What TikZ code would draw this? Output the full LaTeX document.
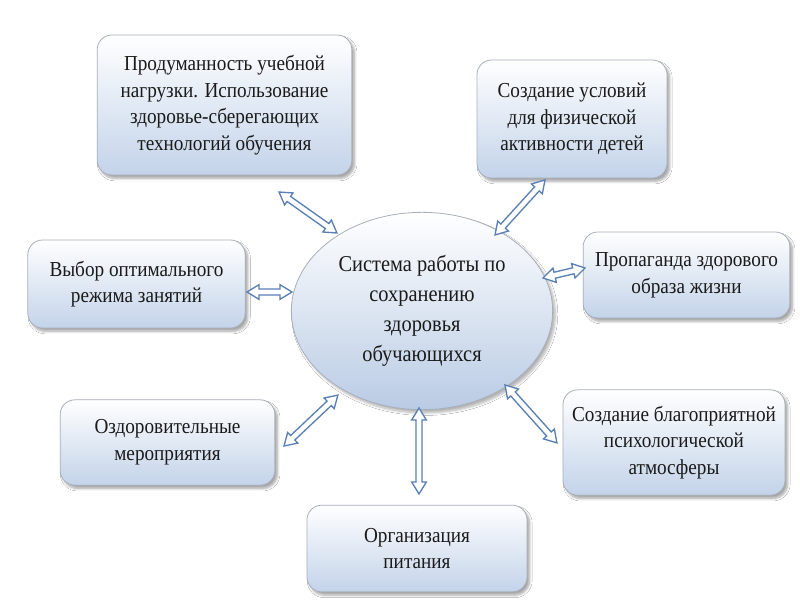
\documentclass[tikz,border=0pt]{standalone}
\usepackage{fontspec}
\setmainfont{Liberation Serif}
\newfontfamily\boxfont{Liberation Serif}[FakeStretch=0.9]
\usetikzlibrary{shapes.geometric,shadows.blur,calc}
\definecolor{boxblue}{HTML}{C3D3E9}
\definecolor{hubblue}{HTML}{B9CBE4}
\definecolor{boxline}{HTML}{A9AFBA}
\definecolor{arrowblue}{HTML}{5A7FB5}
\definecolor{txt}{HTML}{1A1A1A}
\tikzset{
  box/.style={rectangle, rounded corners=11pt, draw=boxline, line width=0.6pt,
    top color=white, bottom color=boxblue,
    blur shadow={shadow xshift=2pt, shadow yshift=-2.5pt, shadow blur steps=6, shadow opacity=35},
    align=center, font=\boxfont\fontsize{16}{20}\selectfont, text=txt, inner sep=0pt},
  hub/.style={ellipse, draw=boxline, line width=0.6pt,
    top color=white, bottom color=hubblue,
    blur shadow={shadow xshift=2pt, shadow yshift=-2.5pt, shadow blur steps=6, shadow opacity=30},
    align=center, font=\boxfont\fontsize{17}{22.5}\selectfont, text=txt, inner sep=0pt},
  arrowline/.style={draw=arrowblue, fill=white, line width=1pt, line join=miter},
  dblarr/.pic={
    \path[arrowline] (0pt,0pt) -- (9pt,5.5pt) -- (9pt,2.3pt) -- ({#1-9pt},2.3pt)
      -- ({#1-9pt},5.5pt) -- ({#1+0pt},0pt) -- ({#1-9pt},-5.5pt) -- ({#1-9pt},-2.3pt)
      -- (9pt,-2.3pt) -- (9pt,-5.5pt) -- cycle;
  }
}
\newcommand\linkarrow[2]{%
  \path let \p1=($(#2)-(#1)$), \n1={atan2(\y1,\x1)}, \n2={veclen(\x1,\y1)} in
    (#1) pic[rotate=\n1]{dblarr=\n2};}
\begin{document}
\begin{tikzpicture}[x=0.75pt,y=-0.75pt]
\useasboundingbox (0,0) rectangle (800,600);
\fill[white] (0,0) rectangle (800,600);

\node[box, minimum width=191pt, minimum height=105pt] (b1) at (224.5,105)
  {Продуманность учебной\\нагрузки. Использование\\здоровье-сберегающих\\технологий обучения};
\node[box, minimum width=142.5pt, minimum height=88.5pt] (b2) at (572,119)
  {Создание условий\\для физической\\активности детей};
\node[box, minimum width=163pt, minimum height=66pt] (b3) at (136.5,284)
  {Выбор оптимального\\режима занятий};
\node[box, minimum width=155pt, minimum height=64.5pt] (b4) at (686.5,275)
  {Пропаганда здорового\\образа жизни};
\node[box, minimum width=161pt, minimum height=64pt] (b5) at (167.5,442.5)
  {Оздоровительные\\мероприятия};
\node[box, minimum width=166.5pt, minimum height=79pt] (b6) at (674,442.5)
  {Создание благоприятной\\психологической\\атмосферы};
\node[box, minimum width=165pt, minimum height=65pt] (b7) at (417,548.5)
  {Организация\\питания};

\node[hub, minimum width=196pt, minimum height=148pt] (hub) at (422,311)
  {Система работы по\\сохранению\\здоровья\\обучающихся};

\coordinate (a1s) at (279,192); \coordinate (a1e) at (337,233);
\coordinate (a2s) at (545,180); \coordinate (a2e) at (495,235);
\coordinate (a3s) at (247,292); \coordinate (a3e) at (292,292);
\coordinate (a4s) at (585,268); \coordinate (a4e) at (543,278);
\coordinate (a5s) at (284,446); \coordinate (a5e) at (338,395);
\coordinate (a6s) at (505,385); \coordinate (a6e) at (557,443);
\coordinate (a7s) at (419,408); \coordinate (a7e) at (419,494);

\linkarrow{a1s}{a1e}
\linkarrow{a2s}{a2e}
\linkarrow{a3s}{a3e}
\linkarrow{a4s}{a4e}
\linkarrow{a5s}{a5e}
\linkarrow{a6s}{a6e}
\linkarrow{a7s}{a7e}
\end{tikzpicture}
\end{document}
